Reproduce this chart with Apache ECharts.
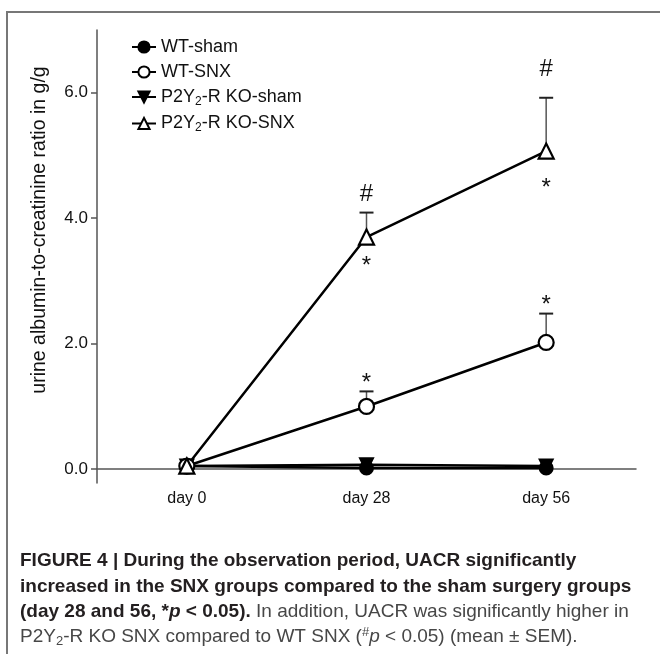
<!DOCTYPE html>
<html>
<head>
<meta charset="utf-8">
<script src="https://cdn.jsdelivr.net/npm/echarts@6/dist/echarts.min.js"></script>
<style>html,body{margin:0;padding:0;background:#fff;}#c{width:660px;height:654px;}</style>
</head>
<body>
<div id="c"></div>
<script>
// ---- data ----
const categories = ['day 0', 'day 28', 'day 56'];
const wtSham   = [0.05, 0.02, 0.02];
const wtSnx    = [0.05, 1.00, 2.02];
const koSham   = [0.05, 0.07, 0.05];
const koSnx    = [0.05, 3.70, 5.07];
const wtSnxErr = [0.00, 0.24, 0.46];   // upper SEM
const koSnxErr = [0.00, 0.39, 0.85];
const yTicks   = [0, 2, 4, 6];
const seriesNames = ['WT-sham', 'WT-SNX', 'P2Y2-R KO-sham', 'P2Y2-R KO-SNX'];
// significance marks: [category index, value where mark sits, mark]
const annoCat   = [1, 2, 1, 2, 1, 2];
const annoValue = [4.41, 6.40, 3.33, 4.57, 1.47, 2.70];
const annoMark  = ['#', '#', '*', '*', '*', '*'];

const FONT = '"Liberation Sans", Arial, Helvetica, sans-serif';

const chart = echarts.init(document.getElementById('c'), null, {renderer: 'canvas'});

function errData(vals, errs) {
  return vals.map((v, i) => [i, v, v + errs[i]]).filter(d => d[2] > d[1]);
}
const annoData = annoCat.map((c, i) => [c, annoValue[i], annoMark[i]]);

function lineSeries(name, data, symbol, size, extra) {
  return Object.assign({
    name: name, type: 'line', data: data, symbol: symbol, symbolSize: size,
    lineStyle: {color: '#000', width: 2.5},
    itemStyle: {color: '#000', borderColor: '#000', borderWidth: 2},
    emphasis: {disabled: true}, animation: false, z: 3
  }, extra || {});
}

const capBold = {fontFamily: FONT, fontSize: 19, fontWeight: 'bold', fill: '#231f20'};
const capNorm = {fontFamily: FONT, fontSize: 19, fill: '#474747'};

const option = {
  animation: false,
  grid: {left: 97, right: 24, top: 30, bottom: 171},
  legend: {
    orient: 'vertical', left: 126, top: 33, itemGap: 7,
    itemWidth: 24, itemHeight: 14,
    data: seriesNames,
    textStyle: {fontFamily: FONT, fontSize: 18, color: '#111',
      rich: {s: {fontFamily: FONT, fontSize: 12, color: '#111', verticalAlign: 'bottom', padding: [9, 0, 0, 0]}}},
    formatter: function (n) { return n.replace('Y2', 'Y{s|2}'); },
    selectedMode: false
  },
  xAxis: {
    type: 'category', data: categories, boundaryGap: true,
    axisLine: {lineStyle: {color: '#555', width: 1.5}},
    axisTick: {alignWithLabel: true, length: 6, lineStyle: {color: '#555', width: 1.5}},
    axisLabel: {fontFamily: FONT, fontSize: 16, color: '#111', margin: 8}
  },
  yAxis: {
    type: 'value', min: -0.22, max: 7.0,
    splitLine: {show: false},
    axisLine: {show: true, lineStyle: {color: '#555', width: 1.5}},
    axisTick: {show: true, length: 6, customValues: yTicks, lineStyle: {color: '#555', width: 1.5}},
    axisLabel: {customValues: yTicks, fontFamily: FONT, fontSize: 17, color: '#111', margin: 9,
      formatter: v => v.toFixed(1)}
  },
  series: [
    {
      type: 'custom', name: 'err', silent: true, z: 1,
      data: errData(wtSnx, wtSnxErr).concat(errData(koSnx, koSnxErr)),
      renderItem: function (params, api) {
        const p0 = api.coord([api.value(0), api.value(1)]);
        const p1 = api.coord([api.value(0), api.value(2)]);
        const hw = 7;
        return {type: 'group', children: [
          {type: 'line', shape: {x1: p0[0], y1: p0[1], x2: p1[0], y2: p1[1]}, style: {stroke: '#555', lineWidth: 1.5}},
          {type: 'line', shape: {x1: p1[0] - hw, y1: p1[1], x2: p1[0] + hw, y2: p1[1]}, style: {stroke: '#222', lineWidth: 2}}
        ]};
      }
    },
    lineSeries(seriesNames[0], wtSham, 'circle', 13),
    lineSeries(seriesNames[2], koSham, 'triangle', 13, {symbolRotate: 180}),
    lineSeries(seriesNames[1], wtSnx, 'circle', 15, {itemStyle: {color: '#fff', borderColor: '#000', borderWidth: 2.2}}),
    lineSeries(seriesNames[3], koSnx, 'triangle', 15, {itemStyle: {color: '#fff', borderColor: '#000', borderWidth: 2.2}}),
    {
      type: 'custom', name: 'anno', silent: true, z: 5,
      data: annoData,
      renderItem: function (params, api) {
        const d = annoData[params.dataIndex];
        const p = api.coord([d[0], d[1]]);
        const isStar = d[2] === '*';
        return {type: 'text', x: p[0], y: p[1] + (isStar ? 6 : 2),
          style: {text: d[2], fontFamily: FONT, fontSize: 24, fill: '#111',
            align: 'center', verticalAlign: 'middle'}};
      }
    }
  ],
  graphic: [
    {type: 'rect', shape: {x: 7, y: 12, width: 700, height: 700}, style: {fill: 'none', stroke: '#777', lineWidth: 2}, silent: true},
    {type: 'text', x: 40, y: 230, rotation: Math.PI / 2,
      style: {text: 'urine albumin-to-creatinine ratio in g/g', fontFamily: FONT, fontSize: 19.5, fill: '#111',
        align: 'center', verticalAlign: 'middle'}},
    {type: 'text', x: 20, y: 561,
      style: {text: '{b|FIGURE 4 | During the observation period, UACR significantly}', verticalAlign: 'middle',
        rich: {b: capBold}}},
    {type: 'text', x: 20, y: 587,
      style: {text: '{b|increased in the SNX groups compared to the sham surgery groups}', verticalAlign: 'middle',
        rich: {b: capBold}}},
    {type: 'text', x: 20, y: 612,
      style: {text: '{b|(day 28 and 56, *}{bi|p}{b| < 0.05).}{n| In addition, UACR was significantly higher in}', verticalAlign: 'middle',
        rich: {
          b: capBold,
          bi: Object.assign({}, capBold, {fontStyle: 'italic'}),
          n: capNorm
        }}},
    {type: 'text', x: 20, y: 637,
      style: {text: '{n|P2Y}{sub|2}{n|-R KO SNX compared to WT SNX (}{sup|#}{i|p}{n| < 0.05) (mean ± SEM).}', verticalAlign: 'middle',
        rich: {
          n: capNorm,
          i: Object.assign({}, capNorm, {fontStyle: 'italic'}),
          sub: {fontFamily: FONT, fontSize: 13, fill: '#474747', verticalAlign: 'bottom', padding: [9, 0, 0, 0]},
          sup: {fontFamily: FONT, fontSize: 13, fill: '#474747', verticalAlign: 'top', padding: [0, 0, 8, 0]}
        }}}
  ]
};
chart.setOption(option);
</script>
</body>
</html>
